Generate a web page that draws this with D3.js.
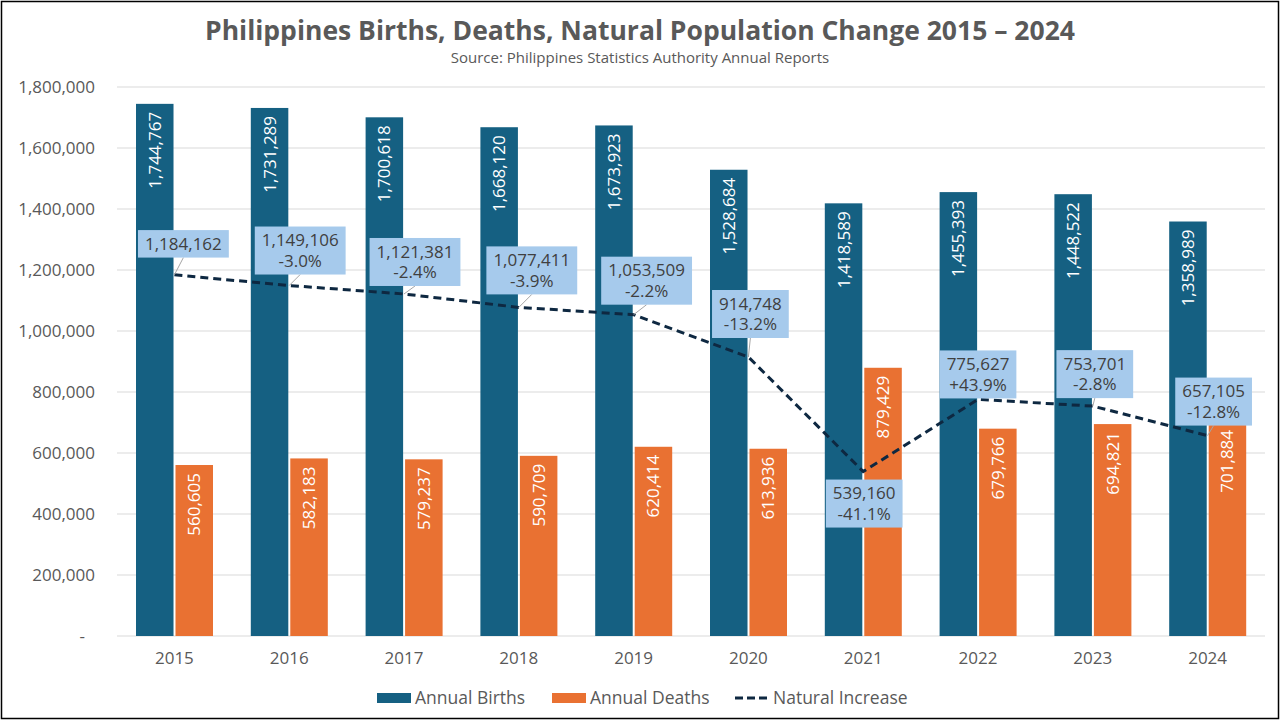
<!DOCTYPE html>
<html>
<head>
<meta charset="utf-8">
<script src="https://cdn.jsdelivr.net/npm/d3@7"></script>
<style>
  body { margin: 0; background: #fff; }
  text { font-family: "Open Sans", "Liberation Sans", sans-serif; }
</style>
</head>
<body>
<div id="chart"></div>
<script>
const years = ["2015", "2016", "2017", "2018", "2019", "2020", "2021", "2022", "2023", "2024"];
const births = [1744767, 1731289, 1700618, 1668120, 1673923, 1528684, 1418589, 1455393, 1448522, 1358989];
const deaths = [560605, 582183, 579237, 590709, 620414, 613936, 879429, 679766, 694821, 701884];
const natural = [1184162, 1149106, 1121381, 1077411, 1053509, 914748, 539160, 775627, 753701, 657105];
const yTicks = [0, 200000, 400000, 600000, 800000, 1000000, 1200000, 1400000, 1600000, 1800000];

// where each callout box sits relative to its point (px)
const calloutOffsets = [[9, -31], [11, -35], [11, -32], [13, -37], [13, -34],
                        [2, -43], [1, 32], [0, -25], [2, -32], [6, -34]];

const width = 1280;
const height = 720;
const margin = { top: 87, right: 15, bottom: 84, left: 117 };

const svg = d3.select('#chart')
  .append('svg')
    .attr('width', width)
    .attr('height', height);

svg.append('rect')
  .attr('x', 1.5).attr('y', 1.5)
  .attr('width', width - 3).attr('height', height - 3)
  .attr('fill', '#fff')
  .attr('stroke', '#000')
  .attr('stroke-width', 1.5);

svg.append('text')
  .attr('x', 640).attr('y', 40)
  .attr('text-anchor', 'middle')
  .attr('font-size', 26.5)
  .attr('font-weight', 'bold')
  .attr('fill', '#595959')
  .text('Philippines Births, Deaths, Natural Population Change 2015 \u2013 2024');

svg.append('text')
  .attr('x', 640).attr('y', 63)
  .attr('text-anchor', 'middle')
  .attr('font-size', 15)
  .attr('fill', '#595959')
  .text('Source: Philippines Statistics Authority Annual Reports');

const plotW = width - margin.left - margin.right;
const plotH = height - margin.top - margin.bottom;

const chart = svg.append('g')
  .attr('transform', 'translate(' + margin.left + ',' + margin.top + ')');

const yScale = d3.scaleLinear()
  .domain([0, 1800000])
  .range([plotH, 0]);

const xScale = d3.scaleBand()
  .domain(years)
  .range([0, plotW]);

const xSub = d3.scaleBand()
  .domain(['births', 'deaths'])
  .range([19, 96])
  .paddingInner(0.05);

// grid
chart.append('g')
  .selectAll('line')
  .data(yTicks)
  .join('line')
    .attr('x1', 0).attr('x2', plotW)
    .attr('y1', d => yScale(d)).attr('y2', d => yScale(d))
    .attr('stroke', '#d9d9d9')
    .attr('stroke-width', 1);

const yAxis = chart.append('g')
  .call(d3.axisLeft(yScale)
    .tickValues(yTicks)
    .tickSize(0)
    .tickPadding(22)
    .tickFormat(d => d === 0 ? '-' : d3.format(',')(d)));
yAxis.select('.domain').remove();
yAxis.selectAll('text')
  .attr('font-size', 17)
  .attr('fill', '#595959')
  .attr('dx', d => d === 0 ? -10 : 0);

const xAxis = chart.append('g')
  .attr('transform', 'translate(0,' + plotH + ')')
  .call(d3.axisBottom(xScale).tickSize(0).tickPadding(16));
xAxis.select('.domain').remove();
xAxis.selectAll('text')
  .attr('font-size', 17)
  .attr('fill', '#595959');

const fmt = d3.format(',');

function drawBars(values, key, color) {
  const g = chart.append('g');
  g.selectAll('rect')
    .data(values)
    .join('rect')
      .attr('x', (d, i) => xScale(years[i]) + xSub(key))
      .attr('y', d => yScale(d))
      .attr('width', xSub.bandwidth())
      .attr('height', d => plotH - yScale(d))
      .attr('fill', color);
  g.selectAll('text')
    .data(values)
    .join('text')
      .attr('transform', (d, i) => 'translate(' + (xScale(years[i]) + xSub(key) + xSub.bandwidth() / 2) + ',' + (yScale(d) + 8) + ') rotate(-90)')
      .attr('text-anchor', 'end')
      .attr('dy', '0.35em')
      .attr('font-size', 17)
      .attr('fill', '#fff')
      .text(d => fmt(d));
}

drawBars(births, 'births', '#156082');
drawBars(deaths, 'deaths', '#E97132');

// natural increase line
const cx = i => xScale(years[i]) + xScale.bandwidth() / 2;

const line = d3.line()
  .x((d, i) => cx(i))
  .y(d => yScale(d));

chart.append('path')
  .datum(natural)
  .attr('d', line)
  .attr('fill', 'none')
  .attr('stroke', '#0E2841')
  .attr('stroke-width', 3)
  .attr('stroke-dasharray', '8,5');

// callouts
const pct = (a, b) => {
  const v = a / b - 1;
  return (v > 0 ? '+' : '') + (v * 100).toFixed(1) + '%';
};

const callouts = chart.append('g');
natural.forEach((v, i) => {
  const px = cx(i), py = yScale(v);
  const bx = px + calloutOffsets[i][0], by = py + calloutOffsets[i][1];
  const lines = i === 0 ? [fmt(v)] : [fmt(v), pct(v, natural[i - 1])];
  const g = callouts.append('g');
  const t = g.append('text')
    .attr('text-anchor', 'middle')
    .attr('font-size', 17)
    .attr('fill', '#404040');
  lines.forEach((s, k) => {
    t.append('tspan')
      .attr('x', bx)
      .attr('y', by + (k - (lines.length - 1) / 2) * 20.5)
      .attr('dy', '0.35em')
      .text(s);
  });
  const bb = t.node().getBBox();
  const bw = bb.width + 14, bh = lines.length * 20.5 + 7;
  const top = by - bh / 2, bottom = by + bh / 2;
  if (py > bottom + 3) {
    g.insert('line', 'text')
      .attr('x1', bx).attr('y1', bottom)
      .attr('x2', px).attr('y2', py)
      .attr('stroke', '#a6a6a6').attr('stroke-width', 1);
  }
  g.insert('rect', 'text')
    .attr('x', bx - bw / 2).attr('y', top)
    .attr('width', bw).attr('height', bh)
    .attr('fill', '#A6CAEC');
});

// legend
const legend = svg.append('g').attr('transform', 'translate(0,698)');
const items = [
  { label: 'Annual Births', color: '#156082', x: 377 },
  { label: 'Annual Deaths', color: '#E97132', x: 552 },
  { label: 'Natural Increase', color: '#0E2841', x: 735, dashed: true }
];
items.forEach(it => {
  if (it.dashed) {
    legend.append('line')
      .attr('x1', it.x).attr('x2', it.x + 33)
      .attr('y1', 0).attr('y2', 0)
      .attr('stroke', it.color).attr('stroke-width', 3)
      .attr('stroke-dasharray', '8,4');
  } else {
    legend.append('rect')
      .attr('x', it.x).attr('y', -5)
      .attr('width', 34).attr('height', 10)
      .attr('fill', it.color);
  }
  legend.append('text')
    .attr('x', it.x + 38).attr('y', 0)
    .attr('dy', '0.35em')
    .attr('font-size', 17.5)
    .attr('fill', '#595959')
    .text(it.label);
});
</script>
</body>
</html>
